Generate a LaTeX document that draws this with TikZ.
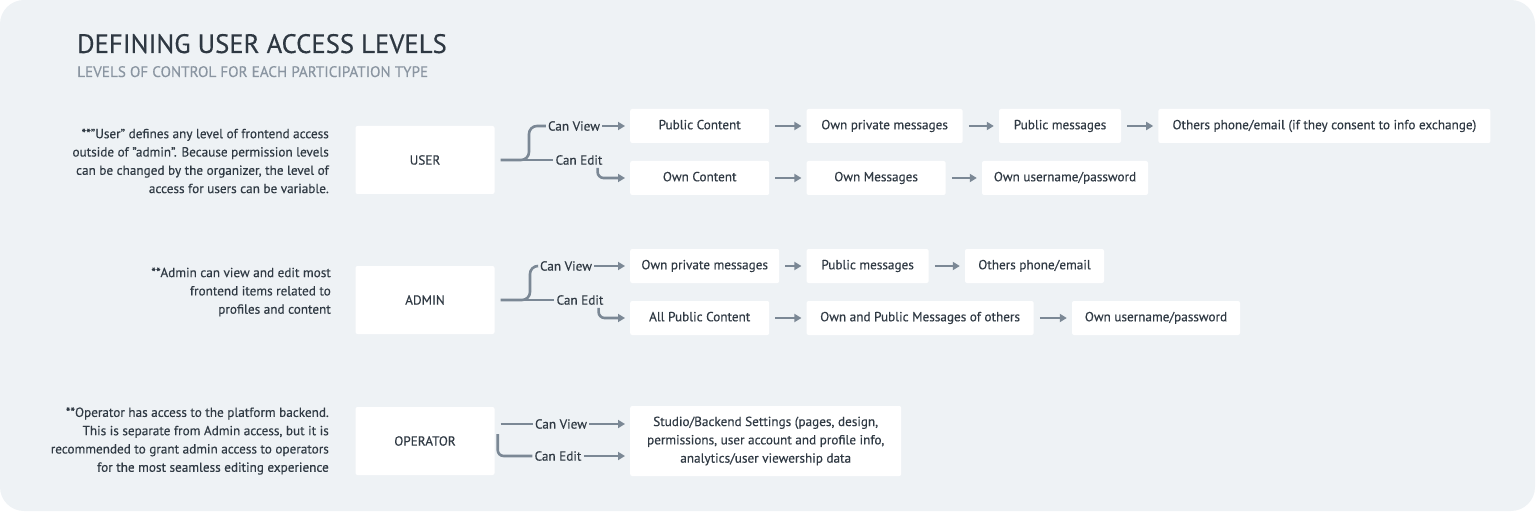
\documentclass[tikz,border=0pt]{standalone}
\usepackage{fontspec}
\setmainfont{PT Sans}[FakeBold=0.35]
\usetikzlibrary{positioning,arrows.meta}
\definecolor{bgc}{HTML}{EEF2F5}
\definecolor{ink}{HTML}{2E3842}
\definecolor{soft}{HTML}{8A95A1}
\definecolor{txt}{HTML}{303A44}
\definecolor{wire}{HTML}{7B8895}
\newcommand{\flow}[2]{\draw[flowarrow] (#1) -- (#2);}
\newcommand{\tagto}[2]{\draw[tagarrow] (#1) -- (#2);}
\newcommand{\qt}{\char34 }
\tikzset{
  body/.style={text=txt,font=\fontsize{13.2}{18.3}\selectfont},
  role/.style={body,fill=white,rounded corners=2pt,minimum width=139pt,minimum height=68pt},
  permtall/.style={body,fill=white,rounded corners=2pt,inner xsep=4pt},
  perm/.style={permtall,minimum height=34pt,text height=9.5pt,text depth=3pt},
  note/.style={body,align=right,anchor=east,inner sep=0pt},
  tag/.style={body,inner sep=2pt},
  wirepath/.style={draw=wire,line width=2.6pt,rounded corners=8pt},
  flowarrow/.style={wirepath,->,shorten <=6pt,shorten >=5pt},
  tagarrow/.style={wirepath,->,shorten >=5pt}
}

\begin{document}
\begin{tikzpicture}[x=1pt,y=-1pt,>={Triangle[length=7pt,width=8pt]}]
  \useasboundingbox (0,0) rectangle (1536,513);
  \fill[bgc,rounded corners=24pt] (0,0) rectangle (1535,511);
  % heading
  \node[anchor=base west,inner sep=0pt,text=ink,font=\fontsize{26.7}{27}\selectfont] (title) at (77,53) {DEFINING USER ACCESS LEVELS};
  \node[anchor=base west,inner sep=0pt,text=soft,font=\fontsize{15.2}{16}\selectfont] (subtitle) at (77,77) {LEVELS OF CONTROL FOR EACH PARTICIPATION TYPE};
  % notes
  \node[note] (unote) at (329,161) {**\qt User\qt{} defines any level of frontend access\\outside of \qt admin\qt. Because permission levels\\can be changed by the organizer, the level of\\access for users can be variable.};
  \node[note] (anote) at (331,292) {**Admin can view and edit most\\frontend items related to\\profiles and content};
  \node[note] (onote) at (329,441) {**Operator has access to the platform backend.\\This is separate from Admin access, but it is\\recommended to grant admin access to operators\\for the most seamless editing experience};
  % roles
  \node[role] (user) at (425,160) {USER};
  \node[role] (admin) at (425,300) {ADMIN};
  \node[role] (oper) at (425,441) {OPERATOR};

  % user
  \node[perm,anchor=west,minimum width=139pt] (upc) at (630,126) {Public Content};
  \node[perm,minimum width=156pt,right=37pt of upc] (uopm) {Own private messages};
  \node[perm,minimum width=122pt,right=36pt of uopm] (upm) {Public messages};
  \node[perm,minimum width=332pt,right=37pt of upm] (uoth) {Others phone/email (if they consent to info exchange)};
  \node[perm,anchor=west,minimum width=139pt] (uoc) at (630,178) {Own Content};
  \node[perm,minimum width=139pt,right=37pt of uoc] (uom) {Own Messages};
  \node[perm,minimum width=166pt,right=36pt of uom] (uup) {Own username/password};
  \node[tag] (uview) at (574,126) {Can View};
  \node[tag] (uedit) at (579,160) {Can Edit};
  \draw[wirepath] ([xshift=6pt]user.east) -- (uedit.west);
  \draw[wirepath] ([xshift=6pt]user.east) -- (529,160) |- (uview.west);
  \draw[tagarrow,rounded corners=6pt] ([xshift=-7pt,yshift=-1pt]uedit.south east) |- (uoc.west);
  \tagto{uview.east}{upc.west}
  \flow{upc.east}{uopm.west}
  \flow{uopm.east}{upm.west}
  \flow{upm.east}{uoth.west}
  \flow{uoc.east}{uom.west}
  \flow{uom.east}{uup.west}

  % admin
  \node[perm,anchor=west,minimum width=149pt] (aopm) at (630,266) {Own private messages};
  \node[perm,minimum width=122pt,right=27pt of aopm] (apm) {Public messages};
  \node[perm,minimum width=139pt,right=36pt of apm] (aoth) {Others phone/email};
  \node[perm,anchor=west,minimum width=139pt] (apc) at (630,318) {All Public Content};
  \node[perm,minimum width=227pt,right=37pt of apc] (aom) {Own and Public Messages of others};
  \node[perm,minimum width=168pt,right=38pt of aom] (aup) {Own username/password};
  \node[tag] (aview) at (566,266) {Can View};
  \node[tag] (aedit) at (580,300) {Can Edit};
  \draw[wirepath] ([xshift=6pt]admin.east) -- (aedit.west);
  \draw[wirepath] ([xshift=6pt]admin.east) -- (530,300) |- (aview.west);
  \draw[tagarrow,rounded corners=6pt] ([xshift=-7pt,yshift=-1pt]aedit.south east) |- (apc.west);
  \tagto{aview.east}{aopm.west}
  \flow{aopm.east}{apm.west}
  \flow{apm.east}{aoth.west}
  \flow{apc.east}{aom.west}
  \flow{aom.east}{aup.west}

  % operator
  \node[permtall,anchor=west,minimum width=271pt,minimum height=70pt,align=center] (studio) at (630,441) {Studio/Backend Settings (pages, design,\\permissions, user account and profile info,\\analytics/user viewership data};
  \node[tag] (oview) at (561,424) {Can View};
  \node[tag] (oedit) at (558,456) {Can Edit};
  \draw[wirepath] ([xshift=6pt]oper.east |- oview.west) -- (oview.west);
  \draw[wirepath,rounded corners=6pt] ([xshift=3pt,yshift=7pt]oper.east) |- (oedit.west);
  \tagto{oview.east}{oview.east -| studio.west}
  \tagto{oedit.east}{oedit.east -| studio.west}
\end{tikzpicture}
\end{document}
